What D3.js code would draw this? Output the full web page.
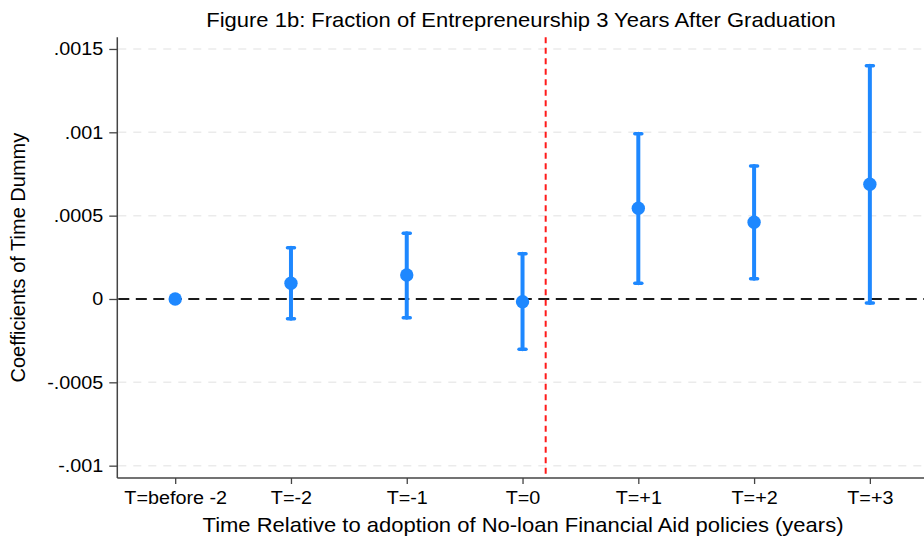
<!DOCTYPE html>
<html>
<head>
<meta charset="utf-8">
<script src="https://cdn.jsdelivr.net/npm/d3@7"></script>
<style>
  html, body { margin: 0; padding: 0; background: #fff; }
  svg { display: block; font-family: Arial, "Liberation Sans", Helvetica, sans-serif; }
</style>
</head>
<body>
<svg id="chart" width="924" height="539"></svg>
<script>
// Event-study coefficients with 95% confidence intervals
const categories = ["T=before -2", "T=-2", "T=-1", "T=0", "T=+1", "T=+2", "T=+3"];
const coef  = [0,        0.000094, 0.000144, -0.000016, 0.000544, 0.000460, 0.000688];
const lower = [null,    -0.000118, -0.000112, -0.000302, 0.000094, 0.000122, -0.000024];
const upper = [null,     0.000308, 0.000394, 0.000272, 0.000992, 0.000798, 0.001400];
const yTicks = [-0.001, -0.0005, 0, 0.0005, 0.001, 0.0015];
const yTickLabels = ["-.001", "-.0005", "0", ".0005", ".001", ".0015"];
const policyLine = 3.2; // adoption marker between T=0 and T=+1

const svg = d3.select("#chart");
const W = 924, H = 539;
const plotLeft = 117.3, plotTop = 37.3, plotBottom = 478;
const unit = 115.78;

// text is set slightly wide, as in the original export
const tickFont = 18.5, tickStretch = 1.07;
const titleFont = 20, titleStretch = 1.1;

const x = d3.scaleLinear().domain([-0.5, 6.5]).range([plotLeft, plotLeft + 7 * unit]);
const y = d3.scaleLinear().domain([-0.001074, 0.00157]).range([plotBottom, plotTop]);

const blue = "#1e88ff";

// grid lines
svg.append("g")
  .selectAll("line")
  .data(yTicks.filter(v => v !== 0))
  .join("line")
  .attr("x1", plotLeft + 1).attr("x2", W)
  .attr("y1", d => y(d)).attr("y2", d => y(d))
  .attr("stroke", "#ebebeb").attr("stroke-width", 1.5)
  .attr("stroke-dasharray", "8,7");

// zero reference line
svg.append("line")
  .attr("x1", plotLeft + 1).attr("x2", W)
  .attr("y1", y(0)).attr("y2", y(0))
  .attr("stroke", "#1a1a1a").attr("stroke-width", 2)
  .attr("stroke-dasharray", "11,6.5");

// policy adoption line
svg.append("line")
  .attr("x1", x(policyLine)).attr("x2", x(policyLine))
  .attr("y1", plotTop).attr("y2", plotBottom)
  .attr("stroke", "#ff1a1a").attr("stroke-width", 2)
  .attr("stroke-dasharray", "6,4.5");

// axes
const yAxis = d3.axisLeft(y).tickValues(yTicks)
  .tickFormat((d, i) => yTickLabels[i]).tickSize(8).tickPadding(6);
const gy = svg.append("g").attr("transform", `translate(${plotLeft},0)`).call(yAxis);
gy.select(".domain").attr("d", `M0,${plotTop}V${plotBottom}`);
gy.selectAll(".tick text")
  .attr("x", -14 / tickStretch)
  .attr("transform", `scale(${tickStretch},1)`);

const xAxis = d3.axisBottom(x).tickValues(d3.range(categories.length))
  .tickFormat(i => categories[i]).tickSize(6).tickPadding(7);
const gx = svg.append("g").attr("transform", `translate(0,${plotBottom})`).call(xAxis);
gx.select(".domain").attr("d", `M${plotLeft},0H${W}`);
gx.selectAll(".tick text").attr("transform", `scale(${tickStretch},1)`);

[gx, gy].forEach(g => {
  g.select(".domain").attr("stroke", "#444").attr("stroke-width", 1.5);
  g.selectAll(".tick line").attr("stroke", "#444").attr("stroke-width", 1.3);
  g.selectAll(".tick text").attr("fill", "#000").style("font-size", tickFont + "px");
});

// confidence intervals
const ci = categories.map((c, i) => ({ i, lo: lower[i], hi: upper[i] }))
  .filter(d => d.lo !== null);
const gci = svg.append("g").attr("stroke", blue).attr("stroke-linecap", "round");
gci.selectAll("line.bar").data(ci).join("line").attr("class", "bar")
  .attr("x1", d => x(d.i)).attr("x2", d => x(d.i))
  .attr("y1", d => y(d.lo)).attr("y2", d => y(d.hi))
  .attr("stroke-width", 4);
gci.selectAll("line.capHi").data(ci).join("line").attr("class", "capHi")
  .attr("x1", d => x(d.i) - 3.5).attr("x2", d => x(d.i) + 3.5)
  .attr("y1", d => y(d.hi)).attr("y2", d => y(d.hi))
  .attr("stroke-width", 3.5);
gci.selectAll("line.capLo").data(ci).join("line").attr("class", "capLo")
  .attr("x1", d => x(d.i) - 3.5).attr("x2", d => x(d.i) + 3.5)
  .attr("y1", d => y(d.lo)).attr("y2", d => y(d.lo))
  .attr("stroke-width", 3.5);

// point estimates
svg.append("g").selectAll("circle")
  .data(coef.map((v, i) => ({ i, v })))
  .join("circle")
  .attr("cx", d => x(d.i)).attr("cy", d => y(d.v))
  .attr("r", 6.7).attr("fill", blue);

// titles
svg.append("text")
  .attr("transform", `translate(521,27) scale(${titleStretch},1)`)
  .attr("text-anchor", "middle").style("font-size", titleFont + "px")
  .text("Figure 1b: Fraction of Entrepreneurship 3 Years After Graduation");

svg.append("text")
  .attr("transform", `translate(523,532) scale(${titleStretch},1)`)
  .attr("text-anchor", "middle").style("font-size", titleFont + "px")
  .text("Time Relative to adoption of No-loan Financial Aid policies (years)");

svg.append("text")
  .attr("transform", `translate(25,${(plotTop + plotBottom) / 2}) rotate(-90)`)
  .attr("text-anchor", "middle").style("font-size", titleFont + "px")
  .text("Coefficients of Time Dummy");
</script>
</body>
</html>
